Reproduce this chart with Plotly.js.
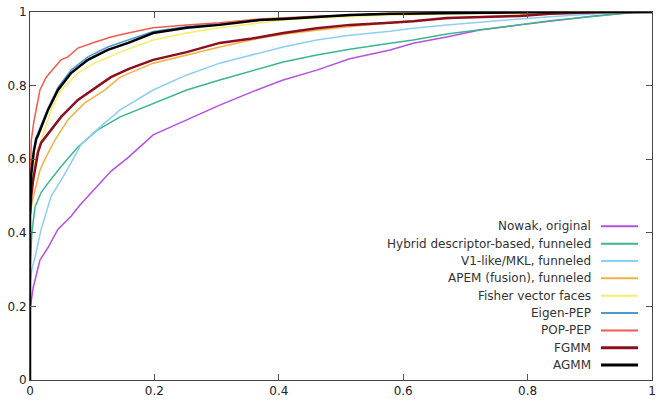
<!DOCTYPE html>
<html><head><meta charset="utf-8">
<script src="https://cdn.plot.ly/plotly-3.0.1.min.js"></script>
<style>html,body{margin:0;padding:0;background:#fff;}#chart{width:656px;height:403px;}</style>
</head><body><div id="chart"></div>
<script>
const seriesNames = ["Nowak, original","Hybrid descriptor-based, funneled","V1-like/MKL, funneled","APEM (fusion), funneled","Fisher vector faces","Eigen-PEP","POP-PEP","FGMM","AGMM"];
const seriesColors = ["#b450e6","#3cb68c","#8ccff5","#f5b040","#f5ee6a","#4a9ccc","#f25a4e","#8b0f1e","#000000"];
const seriesWidths = [1.5,1.5,1.5,1.5,1.5,1.5,1.5,2.5,2.5];

const nowakX = [0,0.005,0.016,0.029,0.045,0.066,0.08,0.109,0.13,0.158,0.198,0.252,0.305,0.36,0.407,0.461,0.514,0.579,0.616,0.67,0.723,0.788,0.85,0.9,0.95,0.975,1];
const nowakY = [0.19,0.25,0.326,0.36,0.41,0.445,0.475,0.53,0.567,0.605,0.666,0.707,0.747,0.785,0.815,0.842,0.873,0.897,0.915,0.932,0.951,0.965,0.978,0.988,0.996,1,1];
const hybridX = [0,0.003,0.008,0.018,0.029,0.05,0.077,0.109,0.145,0.198,0.252,0.305,0.37,0.407,0.461,0.514,0.579,0.616,0.67,0.723,0.788,0.836,0.916,0.965,1];
const hybridY = [0.3,0.4,0.47,0.51,0.535,0.58,0.633,0.68,0.715,0.752,0.788,0.815,0.846,0.864,0.883,0.899,0.915,0.924,0.94,0.951,0.965,0.976,0.99,0.998,1];
const v1X = [0,0.003,0.008,0.018,0.034,0.05,0.066,0.082,0.104,0.145,0.198,0.252,0.305,0.354,0.407,0.461,0.514,0.579,0.616,0.67,0.723,0.788,0.836,0.9,0.95,1];
const v1Y = [0.26,0.3,0.334,0.41,0.5,0.543,0.59,0.64,0.675,0.734,0.788,0.829,0.861,0.883,0.905,0.924,0.937,0.948,0.956,0.965,0.973,0.981,0.987,0.994,0.999,1];
const apemX = [0,0.003,0.008,0.016,0.024,0.04,0.061,0.088,0.12,0.145,0.198,0.252,0.305,0.37,0.42,0.5,0.6,0.7,0.8,0.9,1];
const apemY = [0.44,0.48,0.516,0.57,0.6,0.652,0.707,0.753,0.788,0.823,0.861,0.883,0.905,0.929,0.942,0.958,0.974,0.985,0.993,0.998,1];
const fisherX = [0,0.003,0.008,0.018,0.034,0.05,0.077,0.104,0.145,0.198,0.252,0.305,0.37,0.407,0.461,0.55,0.65,0.75,0.85,1];
const fisherY = [0.46,0.53,0.6,0.652,0.734,0.788,0.834,0.861,0.891,0.924,0.943,0.957,0.970,0.978,0.984,0.99,0.994,0.997,0.999,1];
const eigenX = [0,0.002,0.006,0.01,0.029,0.045,0.066,0.093,0.125,0.158,0.198,0.252,0.305,0.37,0.461,0.55,0.7,0.85,1];
const eigenY = [0.46,0.56,0.62,0.66,0.738,0.795,0.842,0.878,0.905,0.924,0.947,0.96,0.968,0.979,0.987,0.993,0.998,1,1];
const popX = [0,0.001,0.002,0.006,0.01,0.016,0.026,0.04,0.05,0.061,0.077,0.104,0.13,0.158,0.198,0.252,0.305,0.37,0.45,0.55,0.7,0.85,1];
const popY = [0.5,0.58,0.65,0.7,0.734,0.788,0.823,0.851,0.870,0.878,0.902,0.918,0.932,0.943,0.957,0.965,0.971,0.981,0.988,0.993,0.998,1,1];
const fgmmX = [0,0.002,0.005,0.013,0.018,0.029,0.05,0.077,0.104,0.13,0.158,0.198,0.252,0.305,0.354,0.407,0.461,0.514,0.579,0.616,0.67,0.723,0.788,0.836,0.92,1];
const fgmmY = [0.45,0.5,0.543,0.62,0.645,0.67,0.715,0.761,0.793,0.823,0.845,0.870,0.891,0.916,0.927,0.943,0.956,0.965,0.971,0.975,0.984,0.987,0.989,0.995,1,1];
const agmmX = [0,0,0.002,0.006,0.01,0.013,0.029,0.045,0.066,0.093,0.125,0.158,0.198,0.252,0.305,0.37,0.407,0.461,0.514,0.579,0.7,0.85,1];
const agmmY = [0,0.45,0.56,0.62,0.655,0.665,0.734,0.788,0.834,0.870,0.897,0.916,0.943,0.957,0.965,0.978,0.981,0.986,0.992,0.995,0.998,1,1];

const xs = [nowakX,hybridX,v1X,apemX,fisherX,eigenX,popX,fgmmX,agmmX];
const ys = [nowakY,hybridY,v1Y,apemY,fisherY,eigenY,popY,fgmmY,agmmY];

const tickVals = [0,0.2,0.4,0.6,0.8,1];
const tickText = ["0","0.2","0.4","0.6","0.8","1"];

const traces = seriesNames.map((n,i)=>({
  type:'scatter', mode:'lines', name:n, x:xs[i], y:ys[i],
  line:{color:seriesColors[i], width:seriesWidths[i]}, showlegend:false, hoverinfo:'skip'
}));

// custom gnuplot-style legend: right-aligned text, line sample on the right
const legTop = 0.4177, legStep = 0.04715;
const annotations = [], shapes = [];
seriesNames.forEach((n,i)=>{
  const y = legTop - i*legStep;
  annotations.push({xref:'paper', yref:'paper', x:0.905, y:y, xanchor:'right', yanchor:'middle',
    text:n, showarrow:false, font:{family:'DejaVu Sans, Verdana, sans-serif', size:12, color:'#333'}});
  shapes.push({type:'line', xref:'paper', yref:'paper', x0:0.918, x1:0.9775, y0:y, y1:y,
    line:{color:seriesColors[i], width:seriesWidths[i]+0.5}});
});

const axisCommon = {
  range:[0,1], tickvals:tickVals, ticktext:tickText, ticks:'inside', ticklen:6, tickcolor:'#555',
  showline:true, linecolor:'#444', linewidth:1, mirror:'ticks', showgrid:false, zeroline:false,
  tickfont:{family:'DejaVu Sans, Verdana, sans-serif', size:12, color:'#222'}, fixedrange:true
};

const layout = {
  width:656, height:403,
  margin:{l:30, r:4, t:12, b:23},
  paper_bgcolor:'#fff', plot_bgcolor:'#fff',
  xaxis:Object.assign({}, axisCommon),
  yaxis:Object.assign({}, axisCommon),
  annotations:annotations, shapes:shapes, showlegend:false
};

Plotly.newPlot('chart', traces, layout, {displayModeBar:false, staticPlot:true});
</script></body></html>
